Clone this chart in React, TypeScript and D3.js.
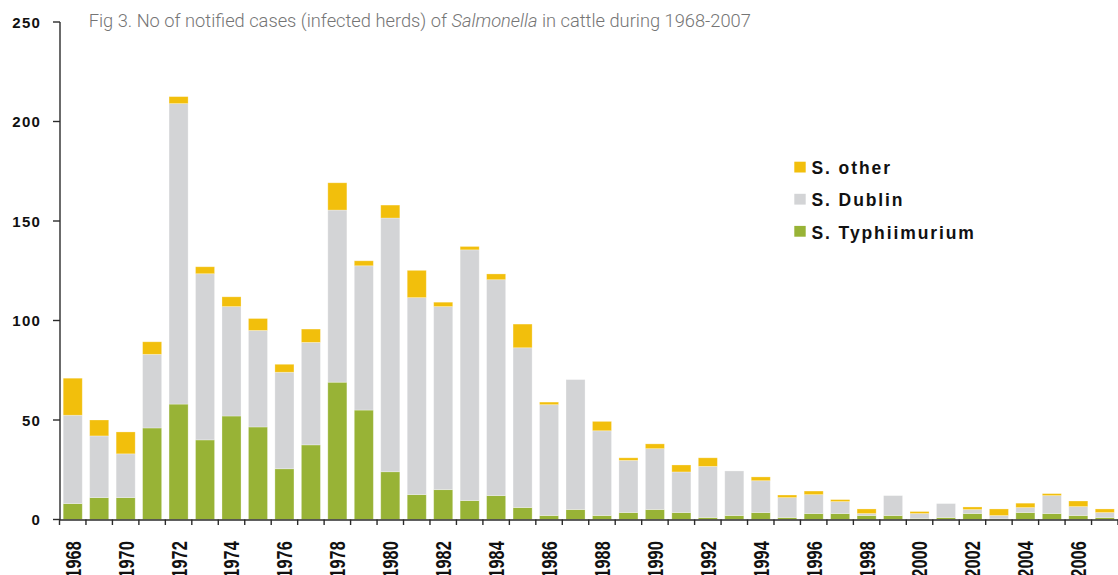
import React, { useLayoutEffect, useRef, useState } from "react";
import * as d3 from "d3";

const years = [
  "1968", "1969", "1970", "1971", "1972", "1973", "1974", "1975", "1976", "1977",
  "1978", "1979", "1980", "1981", "1982", "1983", "1984", "1985", "1986", "1987",
  "1988", "1989", "1990", "1991", "1992", "1993", "1994", "1995", "1996", "1997",
  "1998", "1999", "2000", "2001", "2002", "2003", "2004", "2005", "2006", "2007",
];

const typhimurium = [
  8, 11, 11, 46, 58, 40, 52, 46.5, 25.5, 37.5,
  69, 55, 24, 12.5, 15, 9.5, 12, 6, 2, 5,
  2, 3.5, 5, 3.5, 1, 2, 3.5, 1, 3, 3,
  2, 2, 0.5, 1, 3, 0.3, 3.5, 3, 2, 1,
];

const dublin = [
  44.4, 31, 22, 37, 151, 83.5, 55, 48.5, 48.5, 51.5,
  86.5, 72.5, 127.5, 99, 92, 126, 108.5, 80.3, 55.7, 65.3,
  42.6, 26.2, 30.6, 20.4, 25.7, 22.4, 16, 10, 9.5, 6,
  1, 10, 2.5, 7, 2, 1.7, 2.5, 9, 4.5, 2.5,
];

const other = [
  18.6, 8, 11, 6.3, 3.5, 3.5, 4.9, 6, 4, 6.7,
  13.7, 2.5, 6.5, 13.7, 2.2, 1.7, 2.9, 11.9, 1.3, 0,
  4.7, 1.3, 2.4, 3.5, 4.3, 0, 1.9, 1.3, 1.8, 1,
  2.3, 0, 1, 0, 1.3, 3.3, 2.2, 1, 2.8, 1.8,
];

const yTicks = [0, 50, 100, 150, 200, 250];
const labelYears = years.filter((_, i) => i % 2 === 0);

const seriesKeys = ["typhimurium", "dublin", "other"];
const seriesColors: Record<string, string> = {
  typhimurium: "#98B336",
  dublin: "#D3D4D6",
  other: "#F2BF0C",
};
const legendItems = [
  { key: "other", label: "S. other" },
  { key: "dublin", label: "S. Dublin" },
  { key: "typhimurium", label: "S. Typhiimurium" },
];

const W = 1118;
const H = 575;
const left = 59.5;
const right = 1118;
const baseY = 519.5;
const topY = 22;

export default function App() {
  const titleRef = useRef<SVGTextElement>(null);
  const [titleScale, setTitleScale] = useState(1);

  useLayoutEffect(() => {
    if (titleRef.current) {
      const w = titleRef.current.getBBox().width;
      if (w > 0) setTitleScale(663 / w);
    }
  }, []);

  const x = d3
    .scaleBand<string>()
    .domain(years)
    .range([left, right])
    .paddingInner(0.28)
    .paddingOuter(0.14);
  const y = d3.scaleLinear().domain([0, 250]).range([baseY, topY]);

  const table = years.map((yr, i) => ({
    year: yr,
    typhimurium: typhimurium[i],
    dublin: dublin[i],
    other: other[i],
  }));
  const stacked = d3.stack<any>().keys(seriesKeys)(table);

  const step = x.step();
  const offset = (step - x.bandwidth()) / 2;
  const boundaries = years.map((yr) => (x(yr) as number) - offset);
  boundaries.push(right);

  const axisColor = "#2b2b2b";
  const boldFont = "'Liberation Sans', Arial, sans-serif";

  return (
    <svg
      width={W}
      height={H}
      style={{ position: "absolute", left: 0, top: 0, background: "#fff" }}
    >
      {/* title */}
      <g transform={`translate(88.7,26.8) scale(${titleScale},1)`}>
        <text
          ref={titleRef}
          x={0}
          y={0}
          fontFamily="Roboto, 'Liberation Sans', sans-serif"
          fontWeight={300}
          fontSize={19}
          fill="#757575"
        >
          <tspan>Fig 3. No of notified cases (infected herds) of </tspan>
          <tspan fontStyle="italic">Salmonella</tspan>
          <tspan> in cattle during 1968-2007</tspan>
        </text>
      </g>

      {/* bars */}
      {stacked.map((layer) => (
        <g key={layer.key} fill={seriesColors[layer.key]}>
          {layer.map((d, i) => {
            const h = y(d[0]) - y(d[1]);
            if (h <= 0) return null;
            return (
              <rect
                key={i}
                x={x(years[i]) as number}
                y={y(d[1])}
                width={x.bandwidth()}
                height={h}
                stroke="rgba(255,255,255,0.35)"
                strokeWidth={0.8}
              />
            );
          })}
        </g>
      ))}

      {/* y axis */}
      <line x1={60} x2={60} y1={topY} y2={baseY + 0.5} stroke={axisColor} strokeWidth={1.4} />
      {yTicks.map((t) => (
        <g key={t}>
          <line x1={53} x2={60} y1={y(t)} y2={y(t)} stroke={axisColor} strokeWidth={1.4} />
          <text
            x={41}
            y={y(t) + 5.5}
            textAnchor="end"
            fontFamily={boldFont}
            fontWeight="bold"
            fontSize={15}
            letterSpacing={1.2}
            fill="#111"
          >
            {t}
          </text>
        </g>
      ))}

      {/* x axis */}
      <line x1={left} x2={right} y1={baseY + 0.5} y2={baseY + 0.5} stroke={axisColor} strokeWidth={1.6} />
      {boundaries.map((bx, i) => (
        <line key={i} x1={bx} x2={bx} y1={baseY} y2={baseY + 5.5} stroke={axisColor} strokeWidth={1.4} />
      ))}
      {labelYears.map((yr) => {
        const cx = (x(yr) as number) + x.bandwidth() / 2;
        return (
          <text
            key={yr}
            transform={`translate(${cx},541) rotate(-90) scale(0.74,1)`}
            textAnchor="end"
            dy="0.36em"
            fontFamily={boldFont}
            fontWeight="bold"
            fontSize={22}
            letterSpacing={0.2}
            fill="#111"
          >
            {yr}
          </text>
        );
      })}

      {/* legend */}
      {legendItems.map((it, i) => {
        const by = 174.3 + i * 32.1;
        return (
          <g key={it.key}>
            <rect x={794.3} y={by - 12.6} width={11.4} height={10.8} fill={seriesColors[it.key]} />
            <text
              x={811.5}
              y={by}
              fontFamily={boldFont}
              fontWeight="bold"
              fontSize={17.5}
              letterSpacing={1.9}
              fill="#111"
            >
              {it.label}
            </text>
          </g>
        );
      })}
    </svg>
  );
}
